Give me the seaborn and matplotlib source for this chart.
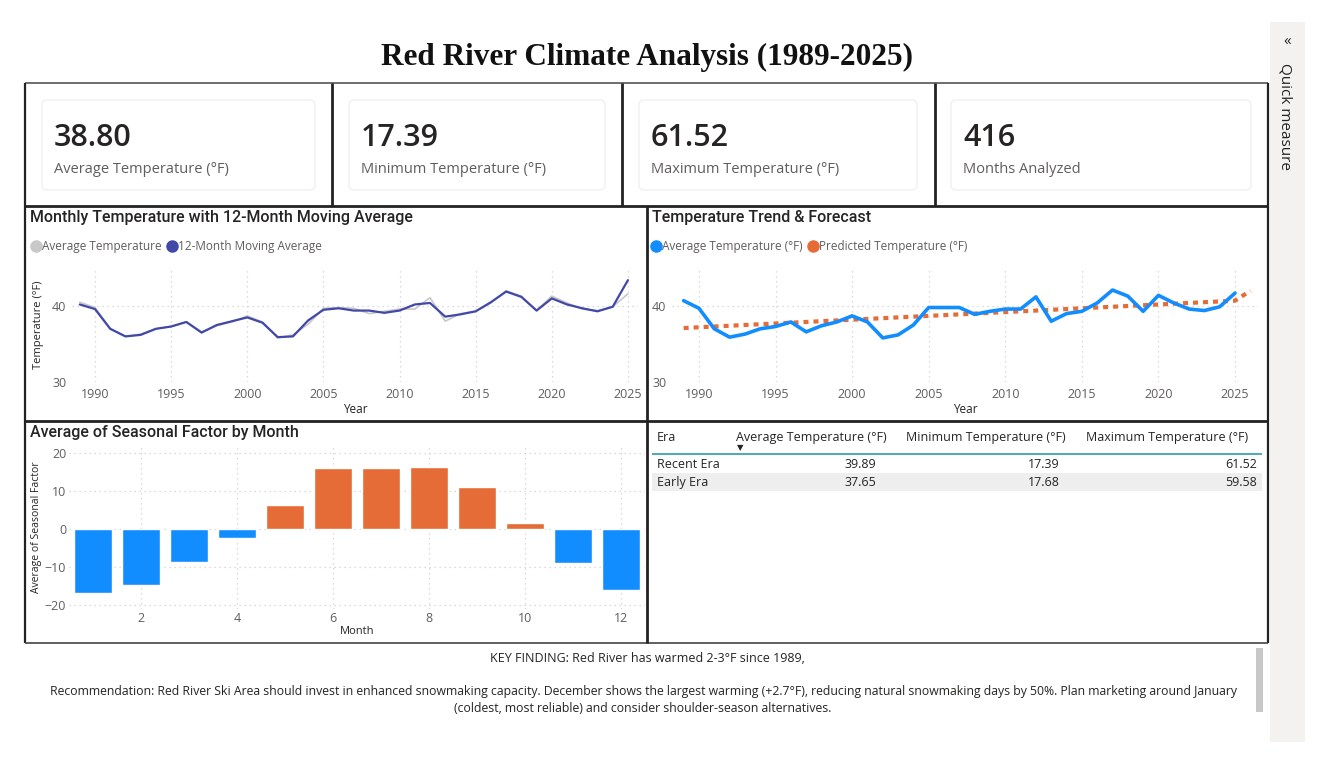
import numpy as np
import pandas as pd
import matplotlib
matplotlib.use("Agg")
from matplotlib import pyplot as plt
from matplotlib.patches import Rectangle, FancyBboxPatch
import seaborn as sns

sns.set_style("white")
plt.rcParams["font.family"] = ["Open Sans", "DejaVu Sans"]

# ---- data ----
years = list(range(1989, 2026))
avg_temp = [40.5, 39.8, 37.0, 36.0, 36.3, 37.0, 37.3, 37.9, 36.6, 37.4, 37.9, 38.7,
            37.9, 35.8, 36.2, 37.6, 39.7, 39.8, 39.7, 39.0, 39.3, 39.6, 39.6, 41.1,
            38.0, 39.0, 39.3, 40.4, 42.0, 41.3, 39.4, 41.3, 40.4, 39.6, 39.4, 39.9, 41.6]
moving_avg = [40.2, 39.6, 37.0, 36.0, 36.2, 37.0, 37.3, 37.9, 36.5, 37.5, 38.0, 38.5,
              37.8, 35.9, 36.0, 38.1, 39.5, 39.7, 39.4, 39.4, 39.1, 39.4, 40.2, 40.4,
              38.6, 38.9, 39.3, 40.5, 41.9, 41.2, 39.4, 41.0, 40.2, 39.7, 39.3, 39.9, 43.4]
trend_avg = [40.7, 39.7, 37.0, 35.9, 36.3, 37.0, 37.3, 37.9, 36.6, 37.4, 37.9, 38.7,
             37.9, 35.8, 36.2, 37.5, 39.8, 39.8, 39.8, 38.9, 39.3, 39.6, 39.6, 41.2,
             38.0, 39.0, 39.3, 40.4, 42.1, 41.3, 39.3, 41.4, 40.4, 39.6, 39.4, 39.9, 41.7]
pred_years = list(range(1989, 2027))
predicted = [37.1, 37.2, 37.3, 37.4, 37.5, 37.6, 37.7, 37.8, 37.9, 38.0, 38.1, 38.2,
             38.3, 38.4, 38.5, 38.6, 38.7, 38.8, 38.9, 39.0, 39.1, 39.2, 39.3, 39.4,
             39.5, 39.6, 39.7, 39.8, 39.9, 40.0, 40.1, 40.2, 40.3, 40.4, 40.5, 40.6,
             40.7, 42.0]

months = list(range(1, 13))
seasonal = [-16.8, -14.7, -8.6, -2.3, 6.3, 16.1, 16.1, 16.4, 11.1, 1.6, -9.0, -16.0]

card_values = ["38.80", "17.39", "61.52", "416"]
card_labels = ["Average Temperature (°F)", "Minimum Temperature (°F)",
               "Maximum Temperature (°F)", "Months Analyzed"]

table_cols = ["Era", "Average Temperature (°F)", "Minimum Temperature (°F)", "Maximum Temperature (°F)"]
table_rows = [["Recent Era", "39.89", "17.39", "61.52"],
              ["Early Era", "37.65", "17.68", "59.58"]]

BLUE = "#118DFF"
ORANGE = "#E66C37"
NAVY = "#4148A8"
LIGHT = "#C8C8C8"
GREY_TXT = "#605E5C"

W, H = 1327, 765
fig = plt.figure(figsize=(W / 100, H / 100), dpi=100)

# background axes in pixel coordinates
bg = fig.add_axes([0, 0, 1, 1])
bg.set_xlim(0, W)
bg.set_ylim(H, 0)
bg.axis("off")


def px_ax(x0, y0, x1, y1):
    ax = fig.add_axes([x0 / W, 1 - y1 / H, (x1 - x0) / W, (y1 - y0) / H])
    ax.set_facecolor("none")
    return ax


def hline(x0, x1, y, c="#222222", lw=1.6):
    bg.plot([x0, x1], [y, y], color=c, lw=lw, solid_capstyle="butt")


def vline(x, y0, y1, c="#222222", lw=1.6):
    bg.plot([x, x], [y0, y1], color=c, lw=lw, solid_capstyle="butt")


# side panel
bg.add_patch(Rectangle((1270, 22), 35, 720, color="#F3F2F1", lw=0))
bg.text(1287, 42, "«", ha="center", va="center", fontsize=11, color="#252423")
bg.text(1285, 116, "Quick measure", ha="center", va="center", rotation=270,
        fontsize=11, color="#252423")

# title
bg.text(647, 57, "Red River Climate Analysis (1989-2025)", ha="center", va="center",
        fontsize=22.5, fontweight="bold", family="Liberation Serif", color="#111111")

# frames
hline(25, 1268, 83, c="#555555", lw=1.2)
for x in [25, 1268]:
    vline(x, 83, 643)
for x in [332, 622, 935]:
    vline(x, 83, 206, lw=2)
hline(25, 1268, 206, lw=2)
hline(25, 1268, 421, lw=2)
hline(25, 1268, 643, c="#444444", lw=1.2)
vline(647, 206, 643, lw=2)

# cards
card_boxes = [(42, 315), (349, 605), (639, 917), (951, 1251)]
for (x0, x1), val, lab in zip(card_boxes, card_values, card_labels):
    bg.add_patch(FancyBboxPatch((x0, 100), x1 - x0, 90, boxstyle="round,pad=0,rounding_size=5",
                                fc="white", ec="#F0F0F0", lw=1))
    bg.text(x0 + 12, 138, val, ha="left", va="center", fontsize=22, fontweight="semibold",
            color="#252423")
    bg.text(x0 + 12, 169, lab, ha="left", va="center", fontsize=10.5, color=GREY_TXT)


def style_line_ax(ax):
    ax.set_ylim(30, 45)
    ax.set_yticks([30, 40])
    ax.set_xticks([1990, 1995, 2000, 2005, 2010, 2015, 2020, 2025])
    ax.grid(True, color="#D0D0D0", ls=(0, (1, 3)), lw=0.9)
    ax.tick_params(length=0, labelsize=9, labelcolor=GREY_TXT, pad=4)
    for s in ax.spines.values():
        s.set_visible(False)
    ax.set_xlabel("Year", fontsize=8.5, color="#252423", labelpad=2)


def legend_row(x, y, items):
    for label, color in items:
        bg.plot(x + 5, y, "o", ms=8, color=color)
        t = bg.text(x + 11, y, label, ha="left", va="center", fontsize=8.5, color=GREY_TXT)
        fig.canvas.draw()
        bb = t.get_window_extent()
        x = x + 11 + bb.width + 5


# ---- top left chart ----
bg.text(30, 217, "Monthly Temperature with 12-Month Moving Average", ha="left", va="center",
        fontsize=11.5, fontweight="medium", family="Roboto", color="#252423")
legend_row(31, 246, [("Average Temperature", LIGHT), ("12-Month Moving Average", NAVY)])
ax1 = px_ax(72, 268, 638, 382)
df1 = pd.DataFrame({"Year": years, "avg": avg_temp, "ma": moving_avg})
sns.lineplot(data=df1, x="Year", y="avg", ax=ax1, color=LIGHT, lw=1.2)
sns.lineplot(data=df1, x="Year", y="ma", ax=ax1, color=NAVY, lw=1.6)
style_line_ax(ax1)
ax1.set_xlim(1988.49, 2025.66)
ax1.set_ylabel("Temperature (°F)", fontsize=8, color="#252423", labelpad=6)

# ---- top right chart ----
bg.text(652, 217, "Temperature Trend & Forecast", ha="left", va="center",
        fontsize=11.5, fontweight="medium", family="Roboto", color="#252423")
legend_row(651, 246, [("Average Temperature (°F)", BLUE), ("Predicted Temperature (°F)", ORANGE)])
ax2 = px_ax(672, 268, 1258, 382)
df2 = pd.DataFrame({"Year": years, "avg": trend_avg})
df3 = pd.DataFrame({"Year": pred_years, "pred": predicted})
sns.lineplot(data=df3, x="Year", y="pred", ax=ax2, color=ORANGE, lw=3, ls=(0, (1.2, 1.2)))
sns.lineplot(data=df2, x="Year", y="avg", ax=ax2, color=BLUE, lw=2.6)
style_line_ax(ax2)
ax2.set_xlim(1988.24, 2026.5)
ax2.set_ylabel("")

# ---- bottom left bar chart ----
bg.text(30, 432, "Average of Seasonal Factor by Month", ha="left", va="center",
        fontsize=11.5, fontweight="medium", family="Roboto", color="#252423")
ax3 = px_ax(69, 445, 645, 609)
df4 = pd.DataFrame({"Month": months, "Seasonal": seasonal})
df4["sign"] = np.where(df4["Seasonal"] >= 0, "pos", "neg")
sns.barplot(data=df4, x="Month", y="Seasonal", hue="sign", palette={"pos": ORANGE, "neg": BLUE},
            native_scale=True, dodge=False, legend=False, ax=ax3, width=0.8, saturation=1)
ax3.set_xlim(0.5, 12.5)
ax3.set_ylim(-21.05, 22.1)
ax3.set_yticks([-20, -10, 0, 10, 20])
ax3.set_xticks([2, 4, 6, 8, 10, 12])
ax3.grid(True, color="#D0D0D0", ls=(0, (1, 3)), lw=0.9)
ax3.set_axisbelow(True)
ax3.tick_params(length=0, labelsize=9, labelcolor=GREY_TXT, pad=2)
for s in ax3.spines.values():
    s.set_visible(False)
ax3.set_xlabel("Month", fontsize=8, color="#252423", labelpad=1)
ax3.set_ylabel("Average of Seasonal Factor", fontsize=7.5, color="#252423", labelpad=2)

# ---- bottom right table ----
col_x = [657, 736, 906, 1086]
for x, c in zip(col_x, table_cols):
    bg.text(x, 437, c, ha="left", va="center", fontsize=9, color="#252423")
bg.text(740, 448, "▼", ha="center", va="center", fontsize=6, color="#252423", family="DejaVu Sans")
hline(652, 1262, 454, c="#2C9DA8", lw=1.2)
bg.add_patch(Rectangle((652, 473), 610, 18, color="#EEEEEE", lw=0))
num_x = [876, 1060, 1257]
for i, row in enumerate(table_rows):
    y = 464 + i * 18
    bg.text(657, y, row[0], ha="left", va="center", fontsize=9, color="#252423")
    for x, v in zip(num_x, row[1:]):
        bg.text(x, y, v, ha="right", va="center", fontsize=9, color="#252423")

# ---- footer text ----
bg.text(647, 659, "KEY FINDING: Red River has warmed 2-3°F since 1989,", ha="center", va="center",
        fontsize=9, color="#252423")
bg.text(643, 691, "Recommendation: Red River Ski Area should invest in enhanced snowmaking capacity. "
        "December shows the largest warming (+2.7°F), reducing natural snowmaking days by 50%. "
        "Plan marketing around January", ha="center", va="center", fontsize=8.8, color="#252423")
bg.text(643, 708, "(coldest, most reliable) and consider shoulder-season alternatives.",
        ha="center", va="center", fontsize=8.8, color="#252423")
bg.add_patch(Rectangle((1256, 648), 7, 64, color="#C8C8C8", lw=0))

fig.savefig("out.png", dpi=100)
